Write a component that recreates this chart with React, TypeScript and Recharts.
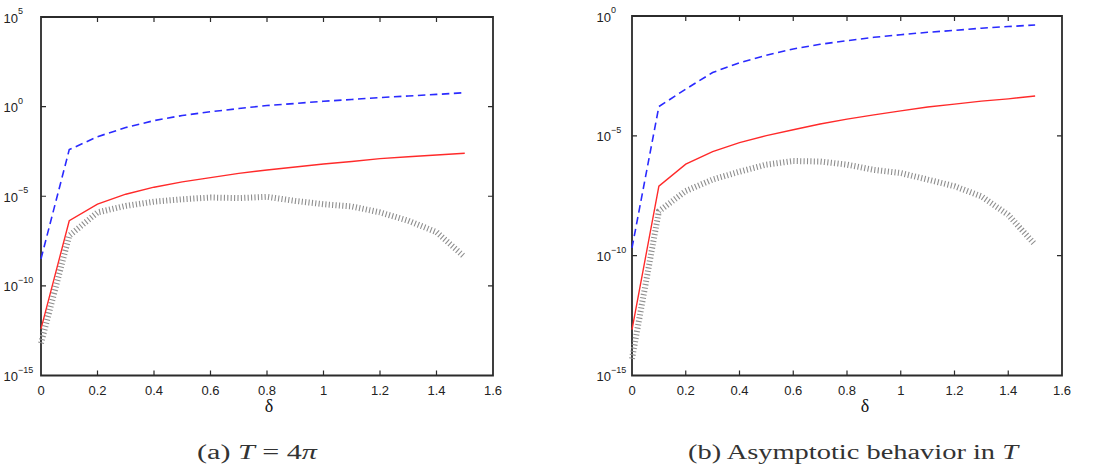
import { LineChart, Line, XAxis, YAxis, ReferenceArea } from 'recharts';

// step sizes delta sampled at 0, 0.1, ..., 1.5
const deltas = [0, 0.1, 0.2, 0.3, 0.4, 0.5, 0.6, 0.7, 0.8, 0.9, 1.0, 1.1, 1.2, 1.3, 1.4, 1.5];
const xTicks = [0, 0.2, 0.4, 0.6, 0.8, 1, 1.2, 1.4, 1.6];

// panel (a): T = 4*pi
const boundA = [3.2e-9, 4.0e-3, 2.1e-2, 6.8e-2, 0.166, 0.32, 0.52, 0.78, 1.15, 1.5, 2.0, 2.5, 3.2, 3.9, 4.8, 6.0];
const errorA = [4.0e-13, 4.3e-7, 3.6e-6, 1.3e-5, 3.2e-5, 6.3e-5, 1.1e-4, 1.9e-4, 2.9e-4, 4.3e-4, 6.3e-4, 8.7e-4, 1.26e-3, 1.6e-3, 2.0e-3, 2.5e-3];
const diffA = [6.3e-14, 6.3e-8, 1.26e-6, 2.9e-6, 5.0e-6, 6.8e-6, 8.5e-6, 7.9e-6, 9.3e-6, 5.5e-6, 3.6e-6, 2.7e-6, 1.26e-6, 4.3e-7, 1.0e-7, 4.0e-9];

// panel (b): asymptotic behaviour in T
const boundB = [2.1e-10, 1.66e-4, 8.9e-4, 4.4e-3, 1.12e-2, 2.3e-2, 4.2e-2, 6.6e-2, 9.3e-2, 0.129, 0.166, 0.209, 0.251, 0.309, 0.363, 0.42];
const errorB = [8.3e-14, 7.9e-8, 6.6e-7, 2.2e-6, 5.2e-6, 1.02e-5, 1.8e-5, 3.1e-5, 5.0e-5, 7.5e-5, 1.1e-4, 1.6e-4, 2.1e-4, 2.8e-4, 3.5e-4, 4.6e-4];
const diffB = [5.0e-15, 7.1e-9, 5.0e-8, 1.5e-7, 3.2e-7, 6.3e-7, 8.9e-7, 8.5e-7, 6.3e-7, 3.8e-7, 2.8e-7, 1.5e-7, 7.9e-8, 3.0e-8, 5.0e-9, 2.9e-10];

const decadesA = [1e-15, 1e-10, 1e-5, 1, 1e5];
const decadesB = [1e-15, 1e-10, 1e-5, 1];

const AXIS = '#2b2b2b';
const FONT = '"Liberation Sans", Arial, sans-serif';
const SERIF = '"Liberation Serif", "DejaVu Serif", serif';
const TICK = 5;

const toRows = (bound: number[], error: number[], diff: number[]) =>
  deltas.map((d, i) => ({ delta: d, bound: bound[i], error: error[i], diff: diff[i] }));

const fmtX = (v: number) => String(Math.round(v * 10) / 10);

// bottom labels plus inward tick marks on both bottom and top edges
function BottomTick(props: any) {
  const { x, y, payload, plotTop } = props;
  const inner = payload.value > 0 && payload.value < 1.6;
  return (
    <g>
      {inner && <path d={`M${x},${y}V${y - TICK}M${x},${plotTop}V${plotTop + TICK}`} stroke={AXIS} strokeWidth={1.2} fill="none" />}
      <text x={x} y={y + 15} textAnchor="middle" dominantBaseline="central" fontFamily={FONT} fontSize={13} fill="#222">
        {fmtX(payload.value)}
      </text>
    </g>
  );
}

// decade labels plus inward tick marks on both left and right edges
function LeftTick(props: any) {
  const { x, y, payload, plotRight, labelGap } = props;
  const exp = Math.round(Math.log10(payload.value));
  return (
    <g>
      <path d={`M${x},${y}H${x + TICK}M${plotRight},${y}H${plotRight - TICK}`} stroke={AXIS} strokeWidth={1.2} fill="none" />
      <text x={x - labelGap} y={y + 1} textAnchor="end" dominantBaseline="central" fontFamily={FONT} fontSize={13} fill="#222">
        10
      </text>
      <text x={x - labelGap} y={y - 6} textAnchor="start" dominantBaseline="central" fontFamily={FONT} fontSize={9} fill="#222">
        {exp < 0 ? `\u2212${-exp}` : exp}
      </text>
    </g>
  );
}

type PanelProps = {
  left: number;
  width: number;
  yAxisWidth: number;
  top: number;
  right: number;
  labelGap: number;
  domain: [number, number];
  decades: number[];
  rows: ReturnType<typeof toRows>;
};

function Panel({ left, width, yAxisWidth, top, right, labelGap, domain, decades, rows }: PanelProps) {
  const height = 400;
  const plotBottom = 375.5;
  return (
    <div style={{ position: 'absolute', left, top: 0 }}>
      <LineChart width={width} height={height} data={rows} margin={{ top, right, bottom: 0, left: 0 }}>
        <XAxis
          dataKey="delta"
          type="number"
          domain={[0, 1.6]}
          ticks={xTicks}
          interval={0}
          height={height - plotBottom}
          tickLine={false}
          axisLine={false}
          tickSize={0}
          tickMargin={0}
          tick={<BottomTick plotTop={top} />}
        />
        <YAxis
          type="number"
          scale="log"
          domain={domain}
          allowDataOverflow
          ticks={decades}
          interval={0}
          width={yAxisWidth}
          tickLine={false}
          axisLine={false}
          tickSize={0}
          tickMargin={0}
          tick={<LeftTick plotRight={width - right} labelGap={labelGap} />}
        />
        <Line
          dataKey="diff"
          type="linear"
          stroke="#8e8e8e"
          strokeWidth={6}
          strokeDasharray="1.1 2.3"
          dot={false}
          isAnimationActive={false}
        />
        <Line dataKey="error" type="linear" stroke="#ff2a2a" strokeWidth={1.4} dot={false} isAnimationActive={false} />
        <Line
          dataKey="bound"
          type="linear"
          stroke="#2a2aff"
          strokeWidth={1.6}
          strokeDasharray="7.5 4.5"
          dot={false}
          isAnimationActive={false}
        />
        {/* axes box */}
        <ReferenceArea
          x1={0}
          x2={1.6}
          y1={domain[0]}
          y2={domain[1]}
          fill="none"
          fillOpacity={0}
          stroke={AXIS}
          strokeWidth={1.8}
          ifOverflow="visible"
        />
      </LineChart>
    </div>
  );
}

export default function App() {
  return (
    <div style={{ position: 'absolute', left: 0, top: 0, width: 1111, height: 465, background: '#fff', overflow: 'hidden' }}>
      <Panel left={0} width={520} yAxisWidth={41} top={17} right={27} labelGap={23} domain={[1e-15, 1e5]} decades={decadesA} rows={toRows(boundA, errorA, diffA)} />
      <Panel left={560} width={530} yAxisWidth={72} top={16} right={28} labelGap={21} domain={[1e-15, 1]} decades={decadesB} rows={toRows(boundB, errorB, diffB)} />
      <svg width={1111} height={465} style={{ position: 'absolute', left: 0, top: 0, pointerEvents: 'none' }}>
        <text x={269} y={412} textAnchor="middle" fontFamily={SERIF} fontSize={18} fill="#111">δ</text>
        <text x={865} y={412} textAnchor="middle" fontFamily={SERIF} fontSize={18} fill="#111">δ</text>
        <text x={197} y={459} fontFamily={SERIF} fontSize={20} fill="#333" textLength={120} lengthAdjust="spacingAndGlyphs">
          (a) <tspan fontStyle="italic">T</tspan> = 4<tspan fontStyle="italic">π</tspan>
        </text>
        <text x={688} y={459} fontFamily={SERIF} fontSize={20} fill="#333" textLength={330} lengthAdjust="spacingAndGlyphs">
          (b) Asymptotic behavior in <tspan fontStyle="italic">T</tspan>
        </text>
      </svg>
    </div>
  );
}
